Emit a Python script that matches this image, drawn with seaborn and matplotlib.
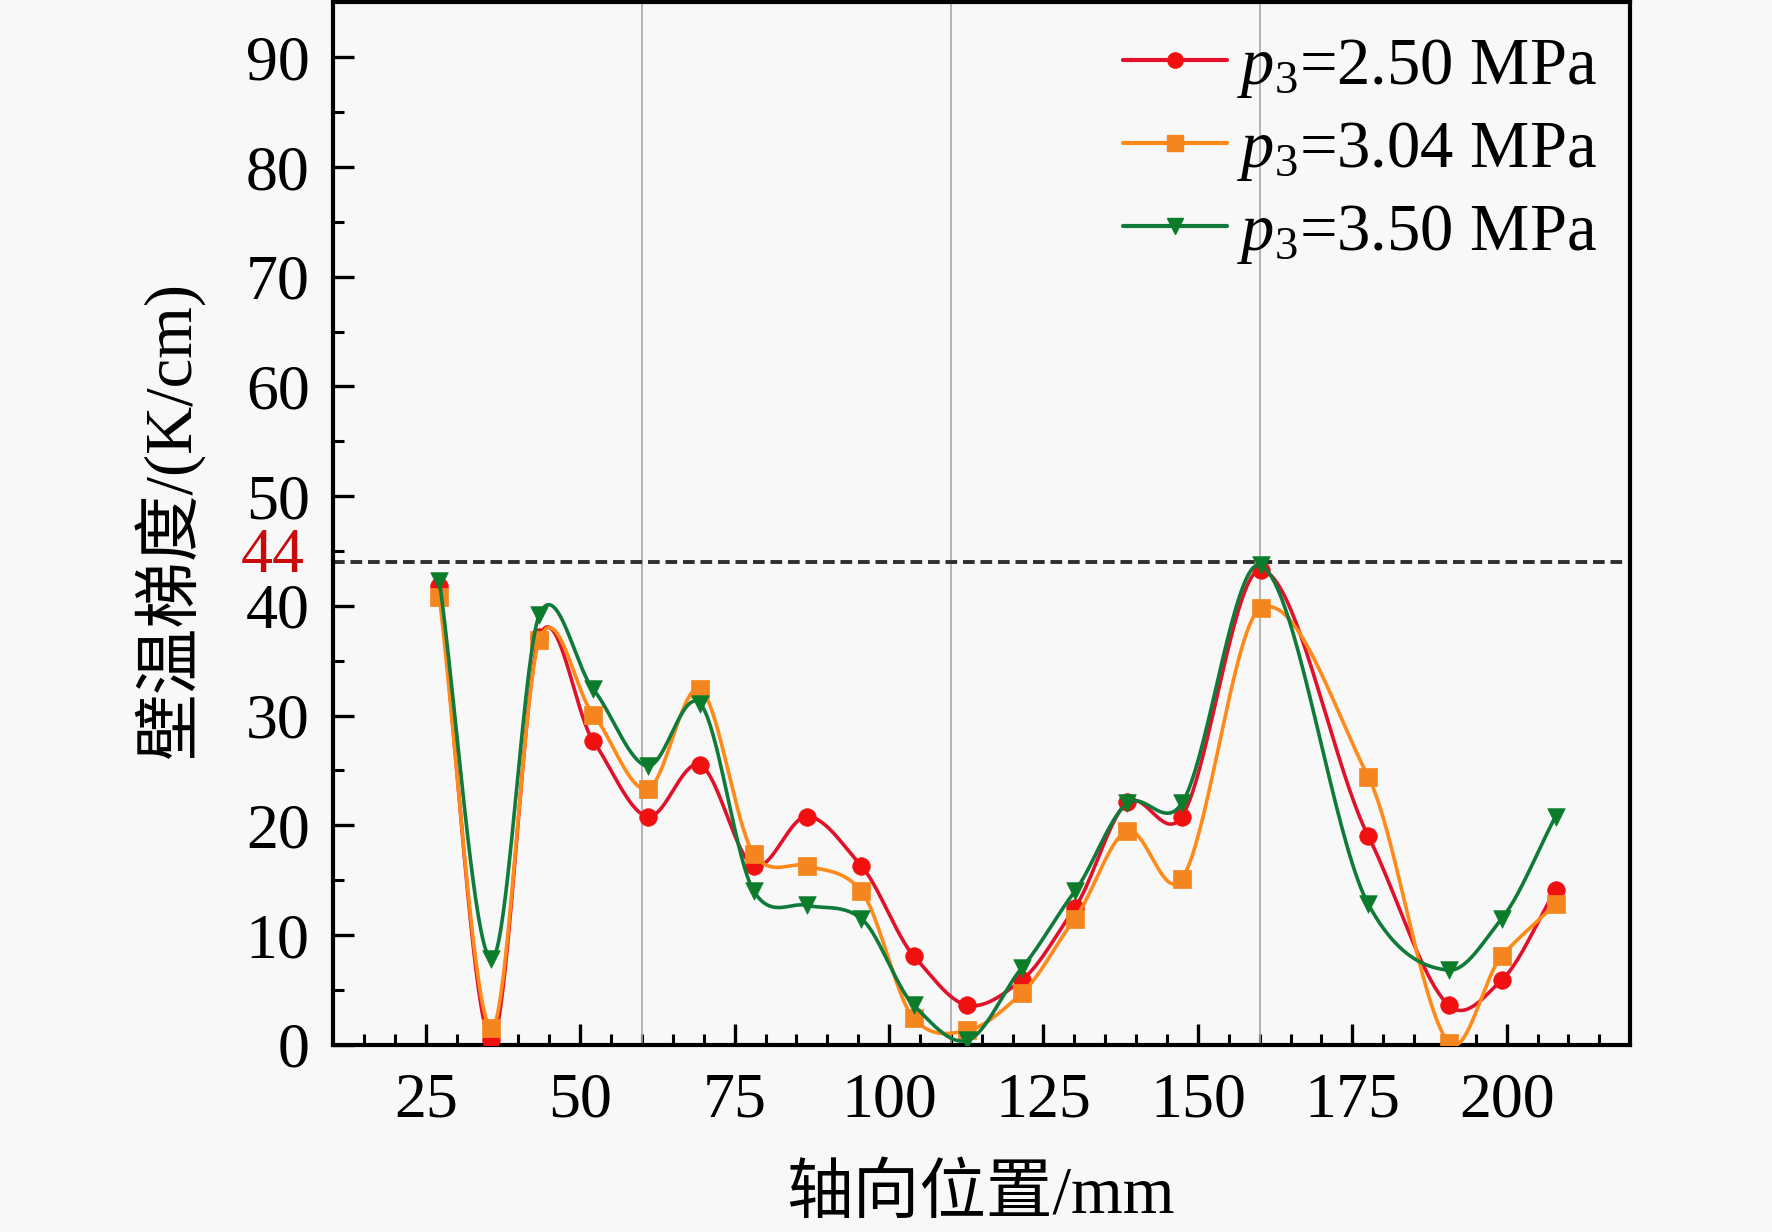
import numpy as np
import pandas as pd
import matplotlib
matplotlib.use("Agg")
import matplotlib.pyplot as plt
from matplotlib.lines import Line2D
import seaborn as sns

# ---------------- data ----------------
x_pos = [27.2, 35.6, 43.4, 52.1, 60.9, 69.4, 78.1, 86.7, 95.5, 104.0,
         112.7, 121.5, 130.1, 138.6, 147.4, 160.2, 177.6, 190.6, 199.2, 207.9]
p250 = [41.8, 0.4, 37.2, 27.7, 20.8, 25.5, 16.3, 20.8, 16.3, 8.1,
        3.6, 5.9, 12.5, 22.1, 20.8, 43.3, 19.0, 3.6, 5.9, 14.1]
p304 = [40.8, 1.5, 36.9, 30.1, 23.3, 32.4, 17.4, 16.3, 14.0, 2.4,
        1.3, 4.7, 11.5, 19.5, 15.1, 39.8, 24.4, 0.2, 8.1, 12.8]
p350 = [42.3, 7.8, 39.2, 32.4, 25.4, 31.1, 14.0, 12.7, 11.5, 3.6,
        0.4, 7.0, 14.0, 22.0, 22.0, 43.7, 12.8, 6.8, 11.5, 20.8]
series_labels = ["$p_3$=2.50 MPa", "$p_3$=3.04 MPa", "$p_3$=3.50 MPa"]
threshold = 44
vlines_x = [60, 110, 160]

# ---------------- style ----------------
sns.set_theme(style="ticks")
plt.rcParams["font.family"] = ["Liberation Serif", "Noto Sans CJK SC", "DejaVu Sans"]
plt.rcParams["mathtext.fontset"] = "custom"
plt.rcParams["mathtext.rm"] = "Liberation Serif"
plt.rcParams["mathtext.it"] = "Liberation Serif:italic"
plt.rcParams["axes.unicode_minus"] = False
plt.rcParams["text.color"] = "black"
plt.rcParams["axes.labelcolor"] = "black"
plt.rcParams["xtick.color"] = "black"
plt.rcParams["ytick.color"] = "black"

bg = "#F8F8F8"
line_colors = ["#E2112B", "#FF8A1A", "#0F7A3A"]
marker_colors = ["#F01010", "#F5861F", "#0B7D2A"]
markers = ["o", "s", "v"]


def smooth_curve(x, y, n=40, k=0.85):
    """Cubic Hermite curve with Catmull-Rom style tangents through the points."""
    x = np.asarray(x, float)
    y = np.asarray(y, float)
    m = len(x)
    t = np.zeros(m)
    for i in range(m):
        if i == 0:
            t[i] = (y[1] - y[0]) / (x[1] - x[0])
        elif i == m - 1:
            t[i] = (y[-1] - y[-2]) / (x[-1] - x[-2])
        else:
            t[i] = k * (y[i + 1] - y[i - 1]) / (x[i + 1] - x[i - 1])
    xs_all, ys_all = [], []
    for i in range(m - 1):
        h = x[i + 1] - x[i]
        s = np.linspace(0, 1, n, endpoint=(i == m - 2))
        h00 = 2 * s**3 - 3 * s**2 + 1
        h10 = s**3 - 2 * s**2 + s
        h01 = -2 * s**3 + 3 * s**2
        h11 = s**3 - s**2
        xs_all.append(x[i] + s * h)
        ys_all.append(h00 * y[i] + h10 * h * t[i] + h01 * y[i + 1] + h11 * h * t[i + 1])
    return np.concatenate(xs_all), np.concatenate(ys_all)


fig = plt.figure(figsize=(17.72, 12.32), dpi=100, facecolor=bg)
ax = fig.add_axes([0.188, 0.152, 0.732, 0.846])
ax.set_facecolor(bg)

for xv in vlines_x:
    ax.axvline(xv, color="#A8A8A8", lw=1.2, zorder=1)

ax.axhline(threshold, color="#2E2E2E", lw=2.8, linestyle=(0, (3, 1.5)), zorder=2)

handles = []
for i, vals in enumerate([p250, p304, p350]):
    xs, ys = smooth_curve(x_pos, vals)
    df_line = pd.DataFrame({"x": xs, "y": ys})
    sns.lineplot(data=df_line, x="x", y="y", ax=ax, color=line_colors[i],
                 lw=2.6, sort=False, estimator=None, zorder=3 + i)
    df_pts = pd.DataFrame({"x": x_pos, "y": vals})
    sns.scatterplot(data=df_pts, x="x", y="y", ax=ax, marker=markers[i],
                    color=marker_colors[i], edgecolor=marker_colors[i],
                    s=160, linewidth=0.5, zorder=3.5 + i)
    handles.append(Line2D([], [], color=line_colors[i], lw=3, marker=markers[i],
                          markersize=11, markerfacecolor=marker_colors[i],
                          markeredgecolor=marker_colors[i]))

ax.set_xlim(10, 220)
ax.set_ylim(0, 95)
ax.set_xticks(np.arange(25, 201, 25))
ax.set_xticks(np.arange(15, 220, 5), minor=True)
ax.set_yticks(np.arange(0, 91, 10))
ax.set_yticks(np.arange(5, 95, 5), minor=True)

ax.tick_params(axis="both", which="major", direction="in", length=15, width=2.4,
               labelsize=46, color="black", labelcolor="black",
               top=False, right=False)
ax.tick_params(axis="both", which="minor", direction="in", length=8, width=2.2,
               top=False, right=False)
ax.tick_params(axis="y", which="major", pad=17)
ax.tick_params(axis="x", which="major", pad=20)

for sp in ax.spines.values():
    sp.set_visible(True)
    sp.set_color("black")
    sp.set_linewidth(3)

ax.text(-0.022, threshold + 0.5, "44", transform=ax.get_yaxis_transform(),
        ha="right", va="center", fontsize=46, color="#C80A0A")

ax.set_xlabel("轴向位置/mm", fontsize=48)
ax.set_ylabel("壁温梯度/(K/cm)", fontsize=48)
ax.xaxis.set_label_coords(0.499, -0.145)
ax.xaxis.label.set_verticalalignment("center")
ax.yaxis.set_label_coords(-0.126, 0.504)
ax.yaxis.label.set_verticalalignment("center")

leg = ax.legend(handles, series_labels, loc="upper right", frameon=False,
                fontsize=48, handlelength=1.55, handletextpad=0.15,
                labelspacing=0.3, bbox_to_anchor=(1.01, 1.012),
                borderaxespad=0.3)

fig.savefig("out.png", dpi=100, facecolor=bg)
